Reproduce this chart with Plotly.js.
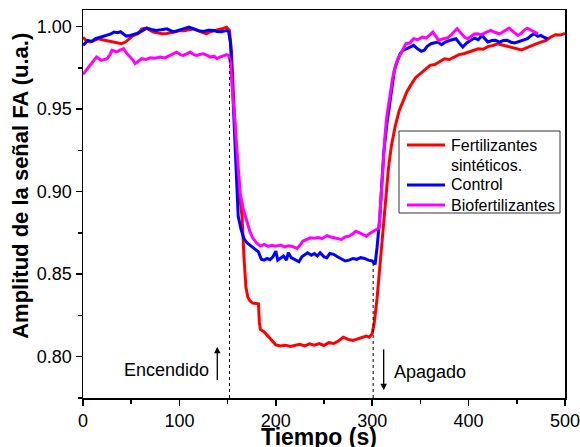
<!DOCTYPE html>
<html>
<head>
<meta charset="utf-8">
<script src="https://cdn.plot.ly/plotly-3.0.1.min.js"></script>
<style>html,body{margin:0;padding:0;background:#fff;}#chart{width:580px;height:447px;}</style>
</head>
<body>
<div id="chart"></div>
<script>
// Fertilizantes sintéticos (red)
const redX = [0,4,8,12,16,20,24,28,32,36,40,44,48,52,57,61,66,70,73,78,82,87,92,96,101,105,110,115,119,124,128,132,136,140,144,149,152,154,156,158,160,162,164,165,167,169,171,173,176,179,182,183,184,188,192,196,200,205,210,215,220,225,230,235,240,245,250,255,260,265,270,275,280,285,290,294,297,300,302,305,308,311,314,317,320,324,328,332,336,340,345,350,355,360,365,370,375,380,385,390,395,400,405,410,415,420,425,430,435,440,445,450,455,460,465,470,475,480,485,490,495,500];
const redY = [0.9935,0.9912,0.9906,0.9916,0.9926,0.9920,0.9916,0.9910,0.9906,0.9900,0.9896,0.9906,0.9925,0.9945,0.9956,0.9986,0.9990,0.9978,0.9966,0.9960,0.9956,0.9958,0.9965,0.9970,0.9976,0.9974,0.9980,0.9986,0.9975,0.9965,0.9956,0.9968,0.9976,0.9980,0.9986,0.9996,0.9975,0.985,0.960,0.935,0.912,0.900,0.892,0.885,0.860,0.842,0.836,0.834,0.8325,0.8322,0.832,0.8205,0.8165,0.8150,0.8125,0.8100,0.8072,0.8065,0.8070,0.8062,0.8068,0.8075,0.8065,0.8078,0.8070,0.8080,0.8068,0.8085,0.8080,0.8095,0.8118,0.8105,0.8098,0.8108,0.8118,0.8125,0.8118,0.8140,0.8200,0.835,0.855,0.876,0.898,0.915,0.928,0.940,0.949,0.955,0.9605,0.9645,0.969,0.9715,0.974,0.9765,0.9770,0.979,0.9805,0.9800,0.9815,0.9830,0.9835,0.9845,0.9852,0.9865,0.9862,0.9878,0.9885,0.9895,0.9888,0.9880,0.9872,0.9862,0.9858,0.9870,0.9885,0.9895,0.9905,0.9915,0.9935,0.9950,0.9948,0.9958];

// Control (blue)
const blueX = [0,5,9,13,18,22,25,29,32,36,39,42,45,49,52,56,59,63,66,71,76,81,87,91,94,98,101,105,110,115,120,125,130,136,139,143,146,149,151,153,155,157,159,161,164,167,170,174,178,182,185,188,191,194,197,200,202,205,208,211,213,216,219,222,224,227,230,233,237,240,243,246,250,253,256,260,264,268,272,276,280,284,288,292,296,300,303,305,308,310,312,315,318,321,323,326,329,332,336,340,343,347,351,354,357,361,364,368,372,376,380,384,387,391,394,398,402,406,410,414,417,420,424,428,432,436,440,444,448,451,455,458,461,465,468,472,475,478,482];
const blueY = [0.9886,0.9916,0.9910,0.9926,0.9935,0.9942,0.9946,0.9955,0.9966,0.9962,0.9968,0.9955,0.9942,0.9946,0.9950,0.9958,0.9966,0.9978,0.9990,0.9982,0.9976,0.9980,0.9986,0.9975,0.9968,0.9975,0.9980,0.9988,0.9996,0.9985,0.9975,0.9970,0.9978,0.9976,0.9970,0.9968,0.9974,0.9976,0.9970,0.9900,0.965,0.935,0.905,0.885,0.877,0.8715,0.869,0.867,0.8655,0.8635,0.8590,0.8585,0.8595,0.8588,0.8605,0.8640,0.8585,0.8595,0.8610,0.8585,0.8630,0.8600,0.8590,0.8580,0.8575,0.8605,0.8620,0.8630,0.8615,0.8625,0.8610,0.8630,0.8605,0.8600,0.8625,0.8620,0.8605,0.8590,0.8580,0.8585,0.8595,0.8590,0.8600,0.8595,0.8585,0.8580,0.8560,0.8660,0.8850,0.9050,0.9233,0.9400,0.9535,0.9660,0.9735,0.9790,0.9836,0.9855,0.9866,0.9880,0.9886,0.9865,0.9850,0.9856,0.9880,0.9896,0.9900,0.9906,0.9890,0.9906,0.9915,0.9920,0.9926,0.9895,0.9876,0.9900,0.9916,0.9930,0.9920,0.9946,0.9925,0.9906,0.9915,0.9916,0.9905,0.9915,0.9916,0.9905,0.9900,0.9906,0.9915,0.9920,0.9926,0.9945,0.9956,0.9940,0.9946,0.9935,0.9926];

// Biofertilizantes (magenta)
const magX = [0,4,7,10,14,19,22,25,28,30,33,35,38,42,45,49,52,54,58,61,65,70,75,80,85,90,94,97,101,104,108,111,115,118,122,125,129,132,136,139,142,146,149,151,153,155,157,159,161,163,166,168,170,173,176,180,184,188,192,196,200,205,209,213,217,220,222,225,228,232,236,240,244,248,253,257,260,264,268,272,276,280,283,287,291,294,297,301,305,307,309,311,313,315,318,321,324,327,330,333,335,339,343,347,352,356,359,363,366,369,373,378,382,385,388,392,396,399,403,406,409,413,417,420,423,427,432,435,438,442,446,451,455,458,461,464,468,472];
const magY = [0.9710,0.9740,0.9765,0.9785,0.9815,0.9795,0.9800,0.9805,0.9830,0.9856,0.9850,0.9846,0.9855,0.9866,0.9840,0.9815,0.9795,0.9775,0.9790,0.9805,0.9800,0.9810,0.9808,0.9815,0.9810,0.9825,0.9835,0.9845,0.9830,0.9825,0.9835,0.9845,0.9830,0.9825,0.9832,0.9835,0.9825,0.9815,0.9820,0.9805,0.9815,0.9822,0.9830,0.9825,0.9780,0.9620,0.9450,0.9280,0.9120,0.8995,0.8900,0.8860,0.8810,0.8760,0.8720,0.8690,0.8670,0.8680,0.8668,0.8675,0.8670,0.8676,0.8665,0.8672,0.8668,0.8660,0.8656,0.8675,0.8700,0.8710,0.8720,0.8718,0.8722,0.8715,0.8733,0.8725,0.8720,0.8718,0.8710,0.8725,0.8730,0.8745,0.8760,0.8750,0.8740,0.8730,0.8745,0.8758,0.8770,0.8780,0.8950,0.9150,0.9320,0.9450,0.9580,0.9680,0.9760,0.9810,0.9840,0.9875,0.9896,0.9900,0.9926,0.9920,0.9936,0.9930,0.9945,0.9966,0.9940,0.9916,0.9925,0.9930,0.9950,0.9970,0.9986,0.9960,0.9935,0.9926,0.9940,0.9955,0.9956,0.9950,0.9962,0.9970,0.9976,0.9965,0.9956,0.9965,0.9978,0.9990,0.9970,0.9946,0.9960,0.9980,0.9990,0.9980,0.9966,0.9955];

const seriesNames = ['Fertilizantes<br>sintéticos.', 'Control', 'Biofertilizantes'];
const seriesColors = ['#ff0000', '#0000ff', '#ff00ff'];
const xTickVals = [0, 100, 200, 300, 400, 500];
const yTickVals = [0.80, 0.85, 0.90, 0.95, 1.00];
const eventTimes = [152, 301];
const eventTops = [0.982, 0.857];
const xTitle = 'Tiempo (s)';
const yTitle = 'Amplitud de la señal FA (u.a.)';

const font = 'Liberation Sans, Arial, sans-serif';
const xs = [redX, blueX, magX], ys = [redY, blueY, magY];
const traces = xs.map((x, i) => ({
  x: x, y: ys[i], type: 'scatter', mode: 'lines', name: seriesNames[i],
  line: {color: seriesColors[i], width: 3}, showlegend: false
}));

const shapes = eventTimes.map((t, i) => ({
  type: 'line', xref: 'x', yref: 'y', x0: t, x1: t, y0: 0.775, y1: eventTops[i],
  line: {color: '#000', width: 1, dash: 'dot'}
}));

// Legend box drawn in paper coordinates (plot area 83..565 x 10..398 px)
const px = v => (v - 83) / 482;
const py = v => 1 - (v - 10) / 388;
shapes.push({type: 'rect', xref: 'paper', yref: 'paper', x0: px(399), x1: px(560), y0: py(213), y1: py(131),
  line: {color: '#333', width: 1}, fillcolor: '#fff', layer: 'above'});

const annotations = [];
let row = 0;
const rowY = [145, 165, 185, 205];
seriesNames.forEach((name, i) => {
  const lines = name.split('<br>');
  shapes.push({type: 'line', xref: 'paper', yref: 'paper', x0: px(407), x1: px(445),
    y0: py(rowY[row]), y1: py(rowY[row]), line: {color: seriesColors[i], width: 3}, layer: 'above'});
  lines.forEach(t => {
    annotations.push({xref: 'paper', yref: 'paper', x: px(449), y: py(rowY[row]), text: t,
      showarrow: false, xanchor: 'left', yanchor: 'middle', font: {size: 16, family: font}});
    row++;
  });
});

const axisCommon = {
  ticks: 'outside', ticklen: 6, tickwidth: 1.5, tickcolor: '#000',
  showline: true, linecolor: '#000', linewidth: 1.5, mirror: true,
  showgrid: false, zeroline: false, tickfont: {size: 18, family: font}
};

annotations.push(
  {xref: 'paper', yref: 'paper', x: -0.1286, y: 0.547, text: '<b>' + yTitle + '</b>', textangle: -90,
    showarrow: false, xanchor: 'center', yanchor: 'middle', font: {size: 22, family: font}},
  {xref: 'paper', yref: 'paper', x: 0.4896, y: -0.062, text: '<b>' + xTitle + '</b>',
    showarrow: false, xanchor: 'center', yanchor: 'top', font: {size: 23, family: font}},
  {x: 139.3, y: 0.806, ax: 139.3, ay: 0.785, xref: 'x', yref: 'y', axref: 'x', ayref: 'y',
    showarrow: true, arrowhead: 2, arrowsize: 1, arrowwidth: 1.3, arrowcolor: '#000', text: ''},
  {x: 133, y: 0.7918, xref: 'x', yref: 'y', text: 'Encendido', showarrow: false,
    xanchor: 'right', yanchor: 'middle', font: {size: 18, family: font}},
  {x: 311.9, y: 0.7797, ax: 311.9, ay: 0.8055, xref: 'x', yref: 'y', axref: 'x', ayref: 'y',
    showarrow: true, arrowhead: 2, arrowsize: 1, arrowwidth: 1.3, arrowcolor: '#000', text: ''},
  {x: 320.9, y: 0.791, xref: 'x', yref: 'y', text: 'Apagado', showarrow: false,
    xanchor: 'left', yanchor: 'middle', font: {size: 18, family: font}}
);

const layout = {
  width: 580, height: 447,
  margin: {l: 83, r: 15, t: 10, b: 49},
  paper_bgcolor: '#fff', plot_bgcolor: '#fff',
  font: {family: font, color: '#000'},
  showlegend: false,
  xaxis: Object.assign({}, axisCommon, {range: [0, 500], tickvals: xTickVals, ticklabeloverflow: 'allow',
    minor: {dtick: 50, ticks: 'outside', ticklen: 4, tickwidth: 1.5, tickcolor: '#000', showgrid: false}}),
  yaxis: Object.assign({}, axisCommon, {range: [0.775, 1.010], tickvals: yTickVals, tickformat: '.2f',
    minor: {tick0: 0.775, dtick: 0.025, ticks: 'outside', ticklen: 4, tickwidth: 1.5, tickcolor: '#000', showgrid: false}}),
  shapes: shapes,
  annotations: annotations
};

Plotly.newPlot('chart', traces, layout, {displayModeBar: false, staticPlot: true});
</script>
</body>
</html>
